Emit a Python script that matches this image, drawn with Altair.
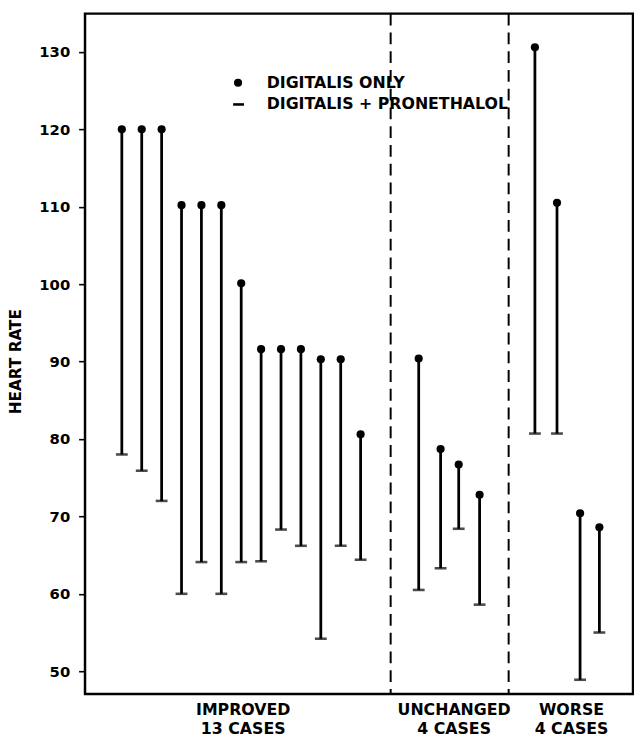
import altair as alt
import pandas as pd

# ---- data ----
groups = ["IMPROVED"] * 13 + ["UNCHANGED"] * 4 + ["WORSE"] * 4
case_pos = [1, 2, 3, 4, 5, 6, 7, 8, 9, 10, 11, 12, 13,
            15.92, 17.02, 17.93, 18.98,
            21.76, 22.87, 24.03, 25.0]
digitalis_only = [120, 120, 120, 110.2, 110.2, 110.2, 100.1, 91.6, 91.6, 91.6, 90.3, 90.3, 80.6,
                  90.4, 78.7, 76.7, 72.8,
                  130.6, 110.5, 70.4, 68.6]
digitalis_pronethalol = [78.0, 75.9, 72.0, 60.0, 64.1, 60.0, 64.1, 64.2, 68.3, 66.2, 54.2, 66.2, 64.4,
                         60.5, 63.3, 68.4, 58.6,
                         80.7, 80.7, 48.9, 55.0]
divider_pos = [14.51, 20.44]
group_label_pos = [7.1, 17.7, 23.6]
group_line1 = ["IMPROVED", "UNCHANGED", "WORSE"]
group_line2 = ["13  CASES", "4  CASES", "4  CASES"]
y_ticks = [50, 60, 70, 80, 90, 100, 110, 120, 130]
legend_labels = ["DIGITALIS ONLY", "DIGITALIS + PRONETHALOL"]

FONT = "DejaVu Sans"
W, H = 555, 689

df = pd.DataFrame({"group": groups, "pos": case_pos,
                   "only": digitalis_only, "pron": digitalis_pronethalol})
div_df = pd.DataFrame({"pos": divider_pos})
lab_df = pd.DataFrame({"pos": group_label_pos, "l1": group_line1, "l2": group_line2})
leg_df = pd.DataFrame({"label": legend_labels})

xs = alt.Scale(domain=[-0.85, 26.69], nice=False, zero=False)
ys = alt.Scale(domain=[47.07, 134.94], nice=False, zero=False)

base = alt.Chart(df)

stems = base.mark_rule(color="black", strokeWidth=2.8).encode(
    x=alt.X("pos:Q", scale=xs, axis=None),
    y=alt.Y("only:Q", scale=ys,
            axis=alt.Axis(title="HEART RATE", values=y_ticks, grid=False, domain=False,
                          ticks=True, tickSize=6.5, tickWidth=1.6, tickColor="black",
                          labelFont=FONT, labelFontSize=15, labelFontWeight="bold",
                          labelColor="black", labelPadding=9,
                          titleFont=FONT, titleFontSize=15.5, titleFontWeight="bold",
                          titleColor="black", titleX=-65, titleY=352,
                          titleBaseline="alphabetic")),
    y2="pron:Q",
)

caps = base.mark_tick(color="black", orient="horizontal", size=12, thickness=2.6).encode(
    x=alt.X("pos:Q", scale=xs), y=alt.Y("pron:Q", scale=ys))

dots = base.mark_point(color="black", filled=True, opacity=1, size=68, shape="circle").encode(
    x=alt.X("pos:Q", scale=xs), y=alt.Y("only:Q", scale=ys))

dividers = alt.Chart(div_df).mark_rule(color="black", strokeWidth=2, strokeDash=[12, 7]).encode(
    x=alt.X("pos:Q", scale=xs))

lab1 = alt.Chart(lab_df).mark_text(font=FONT, fontSize=16, fontWeight="bold", color="black",
                                   align="center", baseline="alphabetic").encode(
    x=alt.X("pos:Q", scale=xs), y=alt.value(H + 21), text="l1:N")
lab2 = alt.Chart(lab_df).mark_text(font=FONT, fontSize=16, fontWeight="bold", color="black",
                                   align="center", baseline="alphabetic").encode(
    x=alt.X("pos:Q", scale=xs), y=alt.value(H + 41), text="l2:N")

leg_dot = alt.Chart(leg_df.iloc[[0]]).mark_point(color="black", filled=True, opacity=1,
                                                 size=68, shape="circle").encode(
    x=alt.value(155), y=alt.value(70))
leg_dash = alt.Chart(leg_df.iloc[[1]]).mark_rule(color="black", strokeWidth=2.6).encode(
    x=alt.value(150), x2=alt.value(161), y=alt.value(92))
leg_txt1 = alt.Chart(leg_df.iloc[[0]]).mark_text(font=FONT, fontSize=16, fontWeight="bold",
                                                 color="black", align="left",
                                                 baseline="middle").encode(
    x=alt.value(184), y=alt.value(70), text="label:N")
leg_txt2 = alt.Chart(leg_df.iloc[[1]]).mark_text(font=FONT, fontSize=16, fontWeight="bold",
                                                 color="black", align="left",
                                                 baseline="middle").encode(
    x=alt.value(184), y=alt.value(92), text="label:N")

chart = alt.layer(stems, caps, dots, dividers, lab1, lab2,
                  leg_dot, leg_dash, leg_txt1, leg_txt2).properties(
    width=W, height=H,
    autosize=alt.AutoSizeParams(type="none"),
    padding={"left": 78, "top": 1, "right": 1, "bottom": 44},
    background="white",
).configure_view(stroke="black", strokeWidth=2.5)

chart.save("out.html", embed_options={"renderer": "svg", "actions": False})
